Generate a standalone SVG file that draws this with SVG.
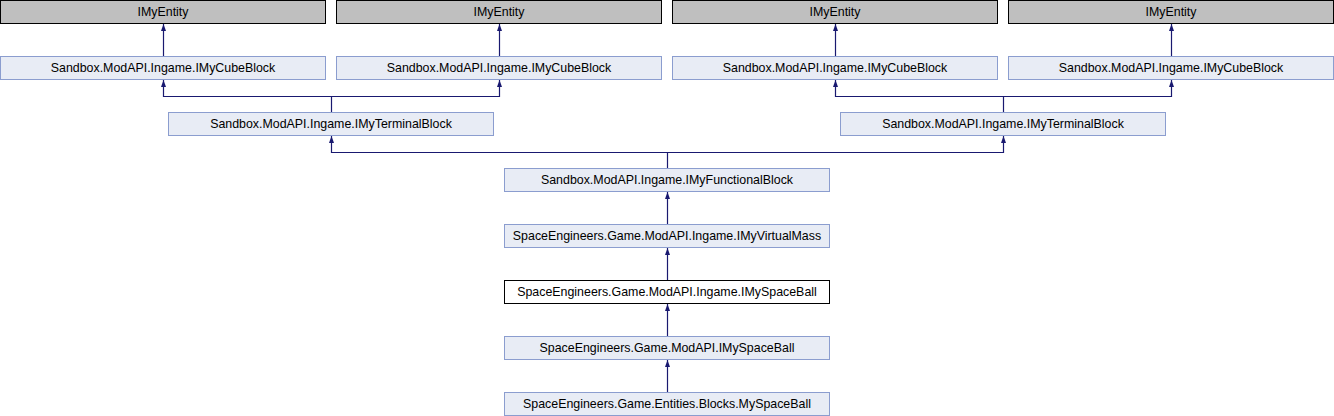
<svg xmlns="http://www.w3.org/2000/svg" width="1334" height="416" viewBox="0 0 1334 416">
<style>
.g rect{fill:#bfbfbf;stroke:#000;stroke-width:1}
.b rect{fill:#e8ecf5;stroke:#8b9dcf;stroke-width:1}
.w rect{fill:#fff;stroke:#000;stroke-width:1}
text{font-family:"Liberation Sans",Arial,sans-serif;font-size:12.4px;fill:#000;text-anchor:middle}
#edges path{fill:none;stroke:#191970;stroke-width:1.2}
</style>
<defs>
<marker id="ah" markerWidth="8" markerHeight="6" refX="7" refY="3" orient="auto" markerUnits="userSpaceOnUse" viewBox="0 0 8 6">
<path d="M0,0.5 L7,3 L0,5.5 Z" fill="#191970"/>
</marker>
</defs>
<rect width="1334" height="416" fill="#fff"/>
<g id="edges">
<path d="M163.5,56 V24" marker-end="url(#ah)"/>
<path d="M499.5,56 V24" marker-end="url(#ah)"/>
<path d="M835.5,56 V24" marker-end="url(#ah)"/>
<path d="M1171.5,56 V24" marker-end="url(#ah)"/>
<path d="M331.5,112 V96.5 H163.5 V80" marker-end="url(#ah)"/>
<path d="M331.5,96.5 H499.5 V80" marker-end="url(#ah)"/>
<path d="M1003.5,112 V96.5 H835.5 V80" marker-end="url(#ah)"/>
<path d="M1003.5,96.5 H1171.5 V80" marker-end="url(#ah)"/>
<path d="M667.5,168 V152.5 H331.5 V136" marker-end="url(#ah)"/>
<path d="M667.5,152.5 H1003.5 V136" marker-end="url(#ah)"/>
<path d="M667.5,224 V192" marker-end="url(#ah)"/>
<path d="M667.5,280 V248" marker-end="url(#ah)"/>
<path d="M667.5,336 V304" marker-end="url(#ah)"/>
<path d="M667.5,392 V360" marker-end="url(#ah)"/>
</g>
<g id="e1" class="g"><rect x="0.5" y="0.5" width="325" height="23"/><text x="163" y="16">IMyEntity</text></g>
<g id="e2" class="g"><rect x="336.5" y="0.5" width="325" height="23"/><text x="499" y="16">IMyEntity</text></g>
<g id="e3" class="g"><rect x="672.5" y="0.5" width="325" height="23"/><text x="835" y="16">IMyEntity</text></g>
<g id="e4" class="g"><rect x="1008.5" y="0.5" width="325" height="23"/><text x="1171" y="16">IMyEntity</text></g>
<g id="c1" class="b"><rect x="0.5" y="56.5" width="325" height="23"/><text x="163" y="72">Sandbox.ModAPI.Ingame.IMyCubeBlock</text></g>
<g id="c2" class="b"><rect x="336.5" y="56.5" width="325" height="23"/><text x="499" y="72">Sandbox.ModAPI.Ingame.IMyCubeBlock</text></g>
<g id="c3" class="b"><rect x="672.5" y="56.5" width="325" height="23"/><text x="835" y="72">Sandbox.ModAPI.Ingame.IMyCubeBlock</text></g>
<g id="c4" class="b"><rect x="1008.5" y="56.5" width="325" height="23"/><text x="1171" y="72">Sandbox.ModAPI.Ingame.IMyCubeBlock</text></g>
<g id="t1" class="b"><rect x="168.5" y="112.5" width="325" height="23"/><text x="331" y="128">Sandbox.ModAPI.Ingame.IMyTerminalBlock</text></g>
<g id="t2" class="b"><rect x="840.5" y="112.5" width="325" height="23"/><text x="1003" y="128">Sandbox.ModAPI.Ingame.IMyTerminalBlock</text></g>
<g id="f" class="b"><rect x="504.5" y="168.5" width="325" height="23"/><text x="667" y="184">Sandbox.ModAPI.Ingame.IMyFunctionalBlock</text></g>
<g id="v" class="b"><rect x="504.5" y="224.5" width="325" height="23"/><text x="667" y="240">SpaceEngineers.Game.ModAPI.Ingame.IMyVirtualMass</text></g>
<g id="s" class="w"><rect x="504.5" y="280.5" width="325" height="23"/><text x="667" y="296">SpaceEngineers.Game.ModAPI.Ingame.IMySpaceBall</text></g>
<g id="s2" class="b"><rect x="504.5" y="336.5" width="325" height="23"/><text x="667" y="352">SpaceEngineers.Game.ModAPI.IMySpaceBall</text></g>
<g id="m" class="b"><rect x="504.5" y="392.5" width="325" height="23"/><text x="667" y="408">SpaceEngineers.Game.Entities.Blocks.MySpaceBall</text></g>
</svg>
